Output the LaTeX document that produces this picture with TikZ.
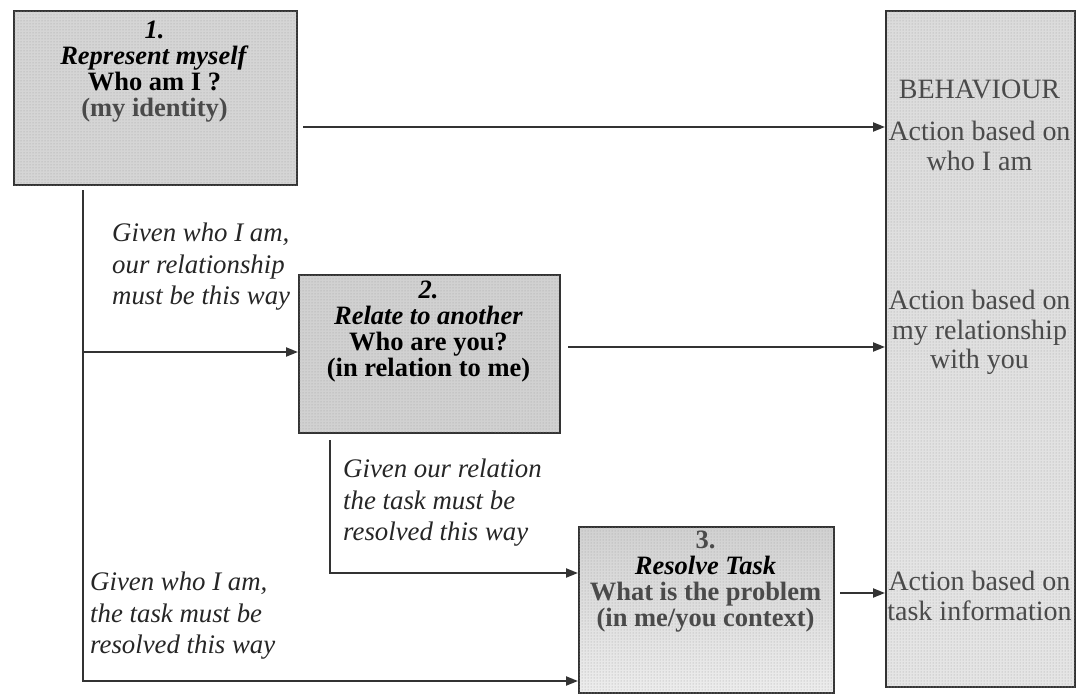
\documentclass[tikz,border=0pt]{standalone}
\usepackage{fontspec}
\setmainfont{Liberation Serif}
\usetikzlibrary{arrows.meta,patterns,calc}

\definecolor{ink}{HTML}{333333}
\definecolor{soft}{HTML}{4A4A4A}

\tikzset{
  panel/.style={draw=ink, line width=2pt, anchor=north west, inner sep=0pt,
    postaction={pattern=dots, pattern color=gray!75}},
  link/.style={draw=ink, line width=2.1pt, -{Triangle[length=12pt,width=9pt]}},
  note/.style={font=\fontsize{26.8}{31.5}\selectfont\itshape, align=left,
    anchor=north west, inner sep=0pt, text=black!85},
  boxtext/.style={font=\fontsize{26.5}{26}\selectfont, align=center,
    anchor=north, inner sep=0pt},
  outtext/.style={font=\fontsize{28}{29.5}\selectfont, align=center,
    anchor=north, inner sep=0pt, text=soft},
}

\begin{document}
\begin{tikzpicture}[x=1pt,y=-1pt]
\useasboundingbox (0,0) rectangle (1077,696);

% the four panels
\node[panel, fill=gray!33, minimum width=283pt, minimum height=174pt] (b1) at (13,10) {};
\node[panel, fill=gray!36, minimum width=261pt, minimum height=158pt] (b2) at (298,274) {};
\node[panel, top color=gray!36, bottom color=gray!14, minimum width=255pt, minimum height=166pt] (b3) at (578,526) {};
\node[panel, top color=gray!28, bottom color=gray!20, minimum width=189pt, minimum height=676pt] (beh) at (885,10) {};

% panel texts
\node[boxtext] (t1) at (154.5,21) {\textit{\textbf{1.}}\\ \textit{\textbf{Represent myself}}\\ \textbf{Who am I ?}\\ \textcolor{soft}{\textbf{(my identity)}}};
\node[boxtext] (t2) at (428.5,281) {\textit{\textbf{2.}}\\ \textit{\textbf{Relate to another}}\\ \textbf{Who are you?}\\ \textbf{(in relation to me)}};
\node[boxtext] (t3) at (705.5,531) {\textcolor{soft}{\textbf{3.}}\\ \textit{\textbf{Resolve Task}}\\ \textcolor{soft}{\textbf{What is the problem}}\\ \textcolor{soft}{\textbf{(in me/you context)}}};

\node[outtext] (o0) at (979.5,80) {BEHAVIOUR};
\node[outtext] (o1) at (979.5,121) {Action based on\\ who I am};
\node[outtext] (o2) at (979.5,290) {Action based on\\ my relationship\\ with you};
\node[outtext] (o3) at (979.5,571) {Action based on\\ task information};

% italic annotations
\node[note] (n1) at (112,223) {Given who I am,\\ our relationship\\ must be this way};
\node[note] (n2) at (343,459) {Given our relation\\ the task must be\\ resolved this way};
\node[note] (n3) at (90,572) {Given who I am,\\ the task must be\\ resolved this way};

% connector end points
\coordinate (s1) at (303,127);
\coordinate (s2) at (568,347);
\coordinate (s3) at (840,593);
\coordinate (d1) at (83,190);
\coordinate (j1) at (83,352);
\coordinate (c1) at (83,681);
\coordinate (d2) at (330,440);
\coordinate (c2) at (330,573);

% connectors
\draw[link] (s1) -- (s1 -| beh.west);
\draw[link] (s2) -- (s2 -| beh.west);
\draw[link] (s3) -- (s3 -| beh.west);
\draw[link] (d1) -- (c1) -- (c1 -| b3.west);
\draw[link] (j1) -- (j1 -| b2.west);
\draw[link] (d2) -- (c2) -- (c2 -| b3.west);
\end{tikzpicture}
\end{document}
